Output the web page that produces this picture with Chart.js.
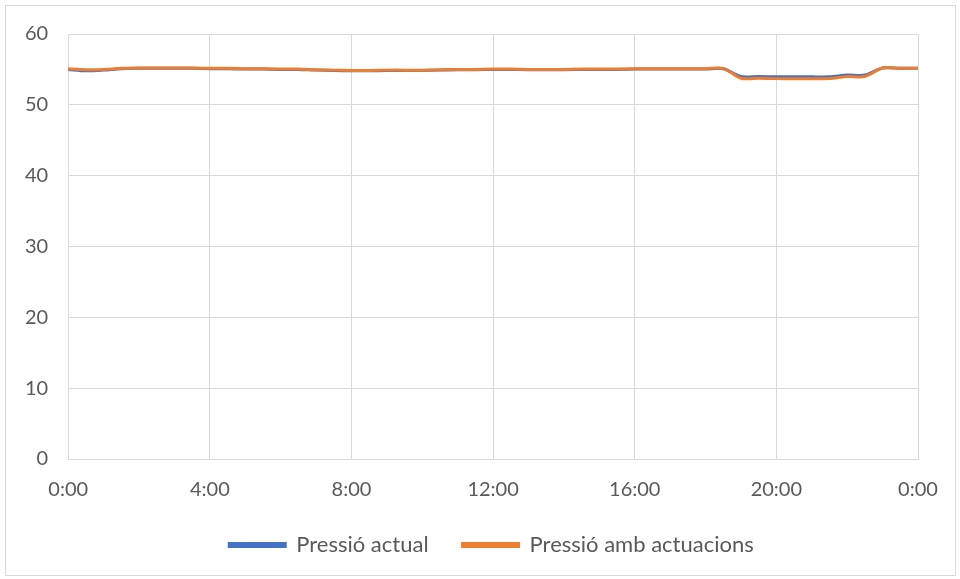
<!DOCTYPE html>
<html lang="ca">
<head>
  <meta charset="UTF-8" />
  <title>Pressió</title>
  <script src="https://cdn.jsdelivr.net/npm/chart.js"></script>
  <style>
    html, body {
      margin: 0;
      padding: 0;
      background: #ffffff;
    }
    .frame {
      position: absolute;
      left: 5px;
      top: 5px;
      width: 949px;
      height: 569px;
      border: 1px solid #d9d9d9;
    }
    .wrap {
      position: absolute;
      left: 0;
      top: 0;
      width: 960px;
      height: 579px;
    }
  </style>
</head>
<body>
  <div class="frame"></div>
  <div class="wrap"><canvas id="chart"></canvas></div>

  <script>
    const times = [
      '0:00', '0:30', '1:00', '1:30', '2:00', '2:30', '3:00', '3:30',
      '4:00', '4:30', '5:00', '5:30', '6:00', '6:30', '7:00', '7:30',
      '8:00', '8:30', '9:00', '9:30', '10:00', '10:30', '11:00', '11:30',
      '12:00', '12:30', '13:00', '13:30', '14:00', '14:30', '15:00', '15:30',
      '16:00', '16:30', '17:00', '17:30', '18:00', '18:30', '19:00', '19:30',
      '20:00', '20:30', '21:00', '21:30', '22:00', '22:30', '23:00', '23:30',
      '0:00'
    ];

    const pressioActual = [
      55.0, 54.8, 54.9, 55.1, 55.15, 55.15, 55.15, 55.15,
      55.1, 55.1, 55.05, 55.05, 55.0, 55.0, 54.9, 54.85,
      54.8, 54.8, 54.85, 54.85, 54.85, 54.9, 54.95, 54.95,
      55.0, 55.0, 54.95, 54.95, 54.95, 55.0, 55.0, 55.0,
      55.05, 55.05, 55.05, 55.05, 55.05, 55.1, 54.0, 54.0,
      53.95, 53.95, 53.95, 53.95, 54.2, 54.2, 55.2, 55.15,
      55.15
    ];

    const pressioActuacions = [
      55.1, 54.95, 55.0, 55.15, 55.2, 55.2, 55.2, 55.2,
      55.15, 55.15, 55.1, 55.1, 55.05, 55.05, 54.95, 54.9,
      54.85, 54.85, 54.9, 54.9, 54.9, 54.95, 55.0, 55.0,
      55.05, 55.05, 55.0, 55.0, 55.0, 55.05, 55.05, 55.05,
      55.1, 55.1, 55.1, 55.1, 55.1, 55.15, 53.75, 53.75,
      53.7, 53.7, 53.7, 53.7, 54.0, 54.0, 55.2, 55.15,
      55.15
    ];

    const yTicks = [0, 10, 20, 30, 40, 50, 60];

    const fontFamily = 'Lato, "Open Sans", sans-serif';

    // nudge the legend a bit (closer to the axis labels, a little to the right)
    const legendNudge = {
      id: 'legendNudge',
      afterLayout(chart) {
        const lg = chart.legend;
        lg.top -= 21;
        lg.bottom -= 21;
        lg.left += 30;
        lg.right += 30;
      }
    };

    const ctx = document.getElementById('chart').getContext('2d');
    new Chart(ctx, {
      type: 'line',
      data: {
        labels: times,
        datasets: [
          {
            label: 'Pressió actual',
            data: pressioActual,
            borderColor: '#4472C4',
            backgroundColor: '#4472C4',
            borderWidth: 3,
            pointRadius: 0,
            tension: 0.3,
            order: 1
          },
          {
            label: 'Pressió amb actuacions',
            data: pressioActuacions,
            borderColor: '#ED7D31',
            backgroundColor: '#ED7D31',
            borderWidth: 3,
            pointRadius: 0,
            tension: 0.3,
            order: 0
          }
        ]
      },
      options: {
        responsive: true,
        maintainAspectRatio: false,
        animation: false,
        layout: {
          padding: { top: 34, right: 42, bottom: -8, left: 5 }
        },
        scales: {
          x: {
            offset: false,
            grid: {
              color: '#d9d9d9',
              lineWidth: 1,
              drawTicks: false
            },
            border: { color: '#d9d9d9' },
            ticks: {
              autoSkip: false,
              maxRotation: 0,
              padding: 21,
              color: '#595959',
              font: { family: fontFamily, size: 20, lineHeight: 1 },
              callback: function (value, index) {
                return index % 8 === 0 ? times[index] : null;
              }
            }
          },
          y: {
            min: yTicks[0],
            max: yTicks[yTicks.length - 1],
            grid: {
              color: '#d9d9d9',
              lineWidth: 1,
              drawTicks: false
            },
            border: { display: false },
            afterBuildTicks: function (axis) {
              axis.ticks = yTicks.map(v => ({ value: v }));
            },
            ticks: {
              padding: 20,
              color: '#595959',
              font: { family: fontFamily, size: 20 }
            }
          }
        },
        plugins: {
          legend: {
            position: 'bottom',
            labels: {
              boxWidth: 56,
              boxHeight: 3,
              padding: 34,
              color: '#595959',
              font: { family: fontFamily, size: 22 },
              sort: (a, b) => a.datasetIndex - b.datasetIndex
            }
          },
          tooltip: { enabled: false }
        }
      },
      plugins: [legendNudge]
    });
  </script>
</body>
</html>
